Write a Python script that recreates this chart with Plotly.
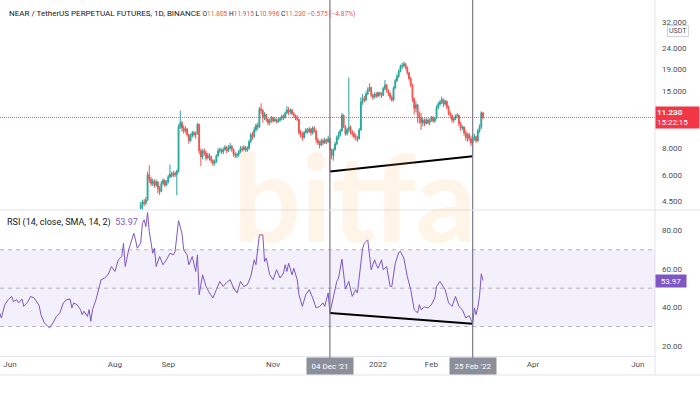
import math
import pandas as pd
import plotly.graph_objects as go

FONT = "Roboto"

# ---------------- price data (daily candles, NEAR/USDT perp) ----------------
start_date = "2021-08-16"
first_open = 4.15
close = [
    # Aug 16-31
    4.30, 4.45, 4.40, 4.55, 6.00, 5.70, 5.45, 5.60, 5.35, 5.55, 5.15, 5.00, 5.45, 5.65, 5.35, 5.55,
    # Sep
    5.85, 6.05, 5.95, 6.10, 6.00, 6.25, 10.10, 10.60, 10.00, 9.70, 9.90, 9.30, 8.70, 9.20, 9.50,
    9.30, 9.45, 10.40, 7.80, 7.30, 7.80, 7.60, 7.20, 7.40, 7.30, 7.00, 6.80, 6.90, 7.40, 7.80,
    # Oct
    7.90, 7.70, 7.90, 8.10, 7.80, 8.00, 8.20, 7.90, 7.50, 7.40, 7.50, 7.75, 8.00, 7.90, 8.10, 7.85,
    8.00, 8.60, 9.30, 9.10, 9.80, 10.30, 10.10, 12.30, 12.10, 11.20, 11.60, 11.00, 10.60, 10.90, 11.20,
    # Nov
    10.80, 11.00, 10.70, 10.90, 11.10, 11.40, 11.20, 11.80, 12.20, 11.90, 12.20, 11.70, 11.50, 11.20, 11.00,
    9.50, 9.30, 9.00, 9.50, 9.80, 9.60, 9.90, 9.50, 10.00, 9.70, 8.80, 8.50, 8.30, 8.70, 8.50,
    # Dec
    8.80, 8.60, 8.90, 7.80, 7.40, 7.90, 8.40, 9.00, 9.30, 9.70, 11.50, 10.20, 9.40, 9.80, 10.10, 9.60,
    9.40, 9.10, 9.00, 8.90, 9.80, 13.30, 13.80, 13.60, 14.50, 15.20, 15.60, 14.30, 14.00, 14.50, 14.20,
    # Jan
    14.70, 14.40, 14.30, 15.40, 16.00, 15.10, 14.60, 14.00, 13.60, 15.50, 16.80, 17.60, 18.60, 19.60, 19.80, 20.20,
    19.50, 18.30, 17.20, 16.00, 13.80, 12.40, 12.90, 11.60, 11.20, 10.60, 10.90, 10.50, 10.90, 10.60, 10.90,
    # Feb
    11.20, 10.80, 11.10, 12.50, 13.00, 13.30, 13.70, 13.00, 13.40, 12.60, 11.80, 11.50, 10.90, 11.10,
    11.40, 11.50, 10.50, 10.00, 10.10, 9.50, 9.00, 9.30, 8.90, 8.50, 8.90, 9.10, 8.70, 9.70,
    # Mar 1-3
    10.10, 11.805, 11.230,
]
high = [
    4.45, 4.55, 4.60, 4.70, 6.20, 6.65, 5.85, 5.75, 5.70, 5.70, 5.60, 5.30, 5.60, 5.75, 5.70, 5.65,
    6.00, 6.70, 6.20, 6.25, 6.20, 6.35, 10.40, 12.10, 10.80, 10.30, 10.20, 10.00, 9.40, 9.40, 9.70,
    9.70, 9.60, 10.60, 10.50, 8.00, 7.95, 8.00, 7.80, 7.60, 7.60, 7.40, 7.10, 7.10, 7.50, 8.00,
    8.10, 8.00, 8.10, 8.30, 8.20, 8.30, 8.50, 8.30, 8.00, 7.70, 7.60, 7.85, 8.20, 8.20, 8.30, 8.20,
    8.20, 8.80, 9.50, 9.60, 10.10, 10.50, 10.60, 12.60, 13.10, 12.30, 11.90, 11.70, 11.10, 11.10, 11.40,
    11.30, 11.30, 11.10, 11.20, 11.30, 11.60, 11.60, 12.00, 12.70, 12.60, 12.40, 12.30, 11.90, 11.60, 11.50,
    11.10, 9.80, 9.60, 9.70, 10.00, 10.00, 10.10, 10.00, 10.20, 10.20, 9.80, 9.00, 8.70, 8.90, 8.90,
    9.00, 8.90, 9.20, 9.00, 8.00, 8.00, 8.60, 9.20, 9.60, 9.90, 11.80, 11.60, 10.30, 10.00, 17.40, 10.30,
    9.80, 9.60, 9.40, 9.20, 10.00, 14.00, 14.50, 14.20, 14.90, 15.60, 16.30, 15.70, 14.60, 14.80, 14.80,
    14.90, 14.90, 14.80, 15.70, 16.90, 16.20, 15.30, 14.80, 14.30, 15.80, 17.10, 18.00, 19.00, 20.00, 20.40, 20.70,
    20.40, 19.60, 18.50, 17.50, 16.20, 14.00, 13.40, 13.00, 12.00, 11.80, 11.20, 11.10, 11.20, 11.10, 11.10,
    11.40, 11.40, 11.30, 12.80, 13.30, 13.60, 14.10, 13.80, 13.60, 13.50, 12.80, 12.00, 11.60, 11.30,
    11.60, 11.80, 11.60, 10.70, 10.30, 10.20, 9.80, 9.50, 9.50, 9.20, 9.30, 9.40, 9.20, 9.90,
    10.40, 12.00, 11.915,
]
low = [
    4.10, 4.05, 4.25, 4.30, 4.50, 5.50, 5.30, 5.30, 5.20, 5.25, 4.90, 4.80, 4.95, 5.35, 5.25, 5.30,
    5.45, 5.80, 5.80, 5.85, 5.85, 4.80, 6.15, 9.90, 9.60, 9.40, 9.50, 9.10, 8.40, 8.60, 9.00,
    9.10, 8.90, 9.30, 7.50, 6.60, 7.10, 7.40, 7.00, 7.10, 7.00, 6.80, 6.60, 6.65, 6.85, 7.30,
    7.60, 7.55, 7.50, 7.80, 7.60, 7.70, 7.90, 7.70, 7.30, 7.20, 7.20, 7.30, 7.60, 7.70, 7.80, 7.70,
    7.70, 7.90, 8.50, 8.80, 9.00, 9.60, 9.80, 10.00, 11.60, 10.60, 10.90, 10.70, 10.30, 10.30, 10.60,
    10.60, 10.70, 10.50, 10.60, 10.70, 10.90, 10.90, 11.10, 11.60, 11.50, 11.60, 11.50, 11.20, 10.90, 10.80,
    9.30, 9.00, 8.70, 8.90, 9.40, 9.40, 9.50, 9.20, 9.30, 9.50, 8.50, 8.30, 8.00, 8.20, 8.30,
    8.40, 8.40, 8.50, 6.22, 7.10, 7.00, 7.80, 8.30, 8.80, 9.10, 9.60, 10.00, 9.20, 9.20, 9.50, 9.30,
    9.10, 8.90, 8.70, 8.60, 8.80, 9.70, 12.90, 13.20, 13.40, 14.30, 14.90, 14.00, 13.60, 13.80, 13.90,
    14.00, 14.10, 13.90, 14.20, 15.10, 14.70, 14.20, 13.60, 13.30, 13.40, 15.30, 16.50, 17.30, 18.40, 19.10, 19.40,
    19.00, 17.90, 16.80, 15.60, 13.30, 11.60, 11.90, 10.60, 10.50, 9.80, 10.20, 10.20, 10.40, 10.40, 10.30,
    10.70, 10.60, 10.60, 11.00, 12.30, 12.70, 13.00, 12.60, 12.80, 12.30, 11.50, 11.10, 10.60, 10.60,
    10.90, 11.10, 10.20, 9.70, 9.80, 9.20, 8.70, 8.60, 8.70, 8.20, 7.35, 8.70, 8.50, 8.60,
    9.50, 9.90, 10.996,
]

# ---------------- RSI (14) ----------------
rsi_dates = [
    "2021-05-26", "2021-05-27", "2021-05-29", "2021-05-31", "2021-06-02", "2021-06-03", "2021-06-05",
    "2021-06-06", "2021-06-08", "2021-06-09", "2021-06-11", "2021-06-13", "2021-06-15", "2021-06-17",
    "2021-06-18", "2021-06-19", "2021-06-21", "2021-06-23", "2021-06-24", "2021-06-26", "2021-06-28",
    "2021-06-30",
    "2021-07-02", "2021-07-04", "2021-07-06", "2021-07-07", "2021-07-08", "2021-07-10", "2021-07-12",
    "2021-07-13", "2021-07-14", "2021-07-16", "2021-07-17", "2021-07-18", "2021-07-19", "2021-07-21",
    "2021-07-23", "2021-07-24", "2021-07-26", "2021-07-28", "2021-07-30",
    "2021-08-01", "2021-08-03", "2021-08-05", "2021-08-06", "2021-08-07", "2021-08-09", "2021-08-10",
    "2021-08-12", "2021-08-13", "2021-08-14", "2021-08-16", "2021-08-17", "2021-08-18", "2021-08-19",
    "2021-08-20", "2021-08-21", "2021-08-23", "2021-08-24", "2021-08-25", "2021-08-27", "2021-08-29",
    "2021-08-31",
    "2021-09-02", "2021-09-04", "2021-09-05", "2021-09-07", "2021-09-09", "2021-09-10", "2021-09-12",
    "2021-09-13", "2021-09-15", "2021-09-17", "2021-09-18", "2021-09-19", "2021-09-21", "2021-09-23",
    "2021-09-25", "2021-09-27", "2021-09-29",
    "2021-10-01", "2021-10-03", "2021-10-05", "2021-10-07", "2021-10-09", "2021-10-11", "2021-10-13",
    "2021-10-15", "2021-10-17", "2021-10-19", "2021-10-21", "2021-10-22", "2021-10-23", "2021-10-24",
    "2021-10-26", "2021-10-27", "2021-10-28", "2021-10-30",
    "2021-11-01", "2021-11-03", "2021-11-05", "2021-11-07", "2021-11-08", "2021-11-09", "2021-11-10",
    "2021-11-12", "2021-11-13", "2021-11-15", "2021-11-16", "2021-11-18", "2021-11-20", "2021-11-22",
    "2021-11-24", "2021-11-26", "2021-11-28", "2021-11-30",
    "2021-12-01", "2021-12-03", "2021-12-04", "2021-12-06", "2021-12-08", "2021-12-09", "2021-12-11",
    "2021-12-13", "2021-12-15", "2021-12-17", "2021-12-19", "2021-12-20", "2021-12-21", "2021-12-23",
    "2021-12-24", "2021-12-26", "2021-12-28", "2021-12-30", "2021-12-31",
    "2022-01-01", "2022-01-03", "2022-01-04", "2022-01-06", "2022-01-08", "2022-01-09", "2022-01-11",
    "2022-01-13", "2022-01-14", "2022-01-16", "2022-01-18", "2022-01-20", "2022-01-22", "2022-01-24",
    "2022-01-25", "2022-01-26", "2022-01-28", "2022-01-30",
    "2022-02-01", "2022-02-03", "2022-02-04", "2022-02-06", "2022-02-08", "2022-02-09", "2022-02-11",
    "2022-02-13", "2022-02-15", "2022-02-17", "2022-02-19", "2022-02-21", "2022-02-23", "2022-02-24",
    "2022-02-25", "2022-02-26", "2022-02-27", "2022-02-28",
    "2022-03-01", "2022-03-02", "2022-03-03",
]
rsi_values = [
    37.1, 34.5, 41.4, 44.0, 45.7, 43.1, 44.0, 42.3, 44.3, 40.5, 42.3, 45.7, 44.9, 42.3, 40.9, 36.2,
    31.9, 30.1, 29.3, 31.9, 35.3, 37.1,
    42.3, 44.0, 44.3, 39.7, 42.3, 41.4, 38.8, 36.2, 38.0, 35.3, 38.8, 32.7, 38.8, 44.0, 51.8, 54.4,
    55.3, 57.0, 61.3,
    58.7, 64.8, 66.5, 73.4, 61.3, 70.0, 72.6, 78.6, 75.2, 70.8, 73.4, 83.8, 85.6, 82.1, 89.4, 79.5,
    68.2, 70.8, 61.3, 66.5, 62.2, 64.8,
    68.2, 67.4, 69.1, 85.2, 78.6, 70.0, 67.4, 62.2, 66.5, 58.7, 67.4, 46.6, 57.0, 50.9, 47.5, 44.9, 49.2,
    53.5, 50.9, 53.0, 54.4, 50.1, 47.5, 53.5, 50.9, 51.8, 56.1, 64.8, 62.2, 70.0, 77.8, 77.8, 63.9,
    65.7, 57.0,
    54.4, 59.6, 55.3, 57.9, 62.2, 58.7, 63.0, 57.0, 60.4, 54.4, 46.6, 40.5, 46.6, 49.2, 44.9, 39.7,
    40.5, 42.3,
    40.5, 47.5, 37.1, 45.0, 53.5, 55.3, 65.1, 49.5, 53.5, 45.7, 49.2, 47.5, 56.1, 70.8, 73.4, 75.2,
    59.6, 64.8, 62.2,
    60.4, 64.8, 59.6, 61.3, 50.9, 50.9, 63.0, 68.6, 69.1, 65.7, 56.1, 49.2, 38.8, 37.1, 41.4, 38.8,
    40.2, 39.7,
    41.4, 44.9, 50.9, 53.5, 50.6, 49.2, 42.3, 40.5, 45.7, 40.5, 38.8, 34.5, 35.7, 34.0, 31.5, 39.7,
    36.2, 40.0,
    46.0, 57.5, 53.97,
]

# ---------------- annotations / axis text ----------------
pivot_dates = ["2021-12-04", "2022-02-25"]
pivot_labels = ["04 Dec '21", "25 Feb '22"]
price_ticks = [4.5, 6, 8, 15, 19, 24, 32]
rsi_ticks = [20, 40, 60, 80]
month_ticks = ["2021-06-01", "2021-08-01", "2021-09-01", "2021-11-01",
               "2022-01-01", "2022-02-01", "2022-04-01", "2022-06-01"]
month_labels = ["Jun", "Aug", "Sep", "Nov", "2022", "Feb", "Apr", "Jun"]
rsi_levels = [30, 50, 70]
countdown = "15:22:15"

UP, DOWN, PURPLE = "#26a69a", "#ef5350", "#7e57c2"
GRID = "#e0e3eb"
TXT = "#4a4e59"

dates = pd.date_range(start_date, periods=len(close), freq="D")
open_ = [first_open] + close[:-1]
last_close = close[-1]
rsi_map = dict(zip(rsi_dates, rsi_values))
pivot_lows = [low[dates.get_loc(pd.Timestamp(d))] for d in pivot_dates]
pivot_rsi = [rsi_map[d] for d in pivot_dates]

H_PLOT = 356.0
split = 146 / H_PLOT

fig = go.Figure()
fig.add_trace(go.Candlestick(
    x=dates, open=open_, high=high, low=low, close=close, yaxis="y", xaxis="x",
    increasing=dict(line=dict(color=UP, width=1), fillcolor=UP),
    decreasing=dict(line=dict(color=DOWN, width=1), fillcolor=DOWN),
    whiskerwidth=0, showlegend=False, hoverinfo="skip"))
fig.add_trace(go.Scatter(x=pivot_dates, y=pivot_lows, mode="lines", yaxis="y",
                         line=dict(color="#000000", width=2), showlegend=False, hoverinfo="skip"))
fig.add_trace(go.Scatter(x=rsi_dates, y=rsi_values, mode="lines", yaxis="y2",
                         line=dict(color=PURPLE, width=1), showlegend=False, hoverinfo="skip"))
fig.add_trace(go.Scatter(x=pivot_dates, y=pivot_rsi, mode="lines", yaxis="y2",
                         line=dict(color="#000000", width=2), showlegend=False, hoverinfo="skip"))

shapes = []
# RSI band and levels
shapes.append(dict(type="rect", xref="paper", yref="y2", x0=0, x1=1, y0=rsi_levels[0], y1=rsi_levels[2],
                   fillcolor="#f3effb", line=dict(width=0), layer="below"))
for lv in rsi_levels:
    shapes.append(dict(type="line", xref="paper", yref="y2", x0=0, x1=1, y0=lv, y1=lv,
                       line=dict(color="#b2b5be", width=1, dash="4px,4px"), layer="below"))
# last price dotted line
shapes.append(dict(type="line", xref="paper", yref="y", x0=0, x1=1, y0=last_close, y1=last_close,
                   line=dict(color="#f7525f", width=1, dash="1px,1px")))
# vertical pivot lines
for d in pivot_dates:
    shapes.append(dict(type="line", xref="x", yref="paper", x0=d, x1=d, y0=-2 / H_PLOT, y1=1,
                       line=dict(color="#787b86", width=1.2)))
# pane separator, axis row borders, right border
for ypx in (210, 375):
    yy = (H_PLOT - ypx) / H_PLOT
    shapes.append(dict(type="line", xref="paper", yref="paper", x0=0, x1=700 / 655, y0=yy, y1=yy,
                       line=dict(color=GRID, width=1)))
shapes.append(dict(type="line", xref="paper", yref="paper", x0=1, x1=1, y0=-19 / H_PLOT, y1=1,
                   line=dict(color=GRID, width=1)))

annotations = []
ohlc = (f"<span style='font-size:6.6px'>O<span style='color:{DOWN}'>11.805</span> "
        f"H<span style='color:{DOWN}'>11.915</span> "
        f"L<span style='color:{DOWN}'>10.996</span> "
        f"C<span style='color:{DOWN}'>{last_close:.3f}</span> "
        f"<span style='color:{DOWN}'>−0.575 (−4.87%)</span></span>")
title_txt = "NEAR / TetherUS PERPETUAL FUTURES, 1D, BINANCE&nbsp;" + ohlc
annotations.append(dict(xref="paper", yref="paper", x=7 / 655, y=(H_PLOT - 14) / H_PLOT,
                        xanchor="left", yanchor="middle", text=title_txt, showarrow=False,
                        font=dict(family=FONT, size=8, color="#131722")))
annotations.append(dict(xref="paper", yref="paper", x=5 / 655, y=(H_PLOT - 222) / H_PLOT,
                        xanchor="left", yanchor="middle",
                        text=f"RSI (14, close, SMA, 14, 2)&nbsp;&nbsp;<span style='color:{PURPLE}'>{rsi_values[-1]:.2f}</span>",
                        showarrow=False, font=dict(family=FONT, size=9, color="#131722")))
annotations.append(dict(xref="paper", yref="y", x=1, y=math.log10(last_close), xanchor="left",
                        yanchor="middle", text=f"<b>{last_close:.3f}</b><br>{countdown}",
                        showarrow=False, bgcolor="#f23645", align="left", width=41, height=19,
                        borderpad=1, font=dict(family=FONT, size=8, color="white")))
annotations.append(dict(xref="paper", yref="paper", x=677.5 / 655, y=(H_PLOT - 31) / H_PLOT,
                        xanchor="center", yanchor="middle", text="USDT", showarrow=False,
                        bgcolor="white", bordercolor="#d1d4dc", borderwidth=1, borderpad=1,
                        font=dict(family=FONT, size=7, color=TXT)))
annotations.append(dict(xref="paper", yref="y2", x=1, y=rsi_values[-1], xanchor="left",
                        yanchor="middle", text=f"{rsi_values[-1]:.2f}", showarrow=False,
                        bgcolor=PURPLE, width=28, height=10, borderpad=1,
                        font=dict(family=FONT, size=8, color="white")))
for d, lab in zip(pivot_dates, pivot_labels):
    annotations.append(dict(xref="x", yref="paper", x=d, y=-10 / H_PLOT, xanchor="center",
                            yanchor="middle", text=lab, showarrow=False, bgcolor="#8c8f99",
                            width=44, height=14, borderpad=1,
                            font=dict(family=FONT, size=8, color="white")))
annotations.append(dict(xref="paper", yref="paper", x=355 / 655, y=(H_PLOT - 196) / H_PLOT,
                        xanchor="center", yanchor="middle", text="bitfa", showarrow=False,
                        font=dict(family="Lato", size=120, color="rgba(247,170,70,0.13)", weight="bold")))

fig.update_layout(
    width=700, height=400, margin=dict(l=0, r=45, t=0, b=44),
    paper_bgcolor="white", plot_bgcolor="white", showlegend=False,
    xaxis=dict(type="date", range=["2021-05-26 05:00", "2022-06-11"], anchor="y2",
               rangeslider=dict(visible=False), showgrid=False, zeroline=False,
               showline=True, linecolor=GRID, linewidth=1,
               tickmode="array", tickvals=month_ticks, ticktext=month_labels, ticks="",
               tickfont=dict(family=FONT, size=8, color=TXT)),
    yaxis=dict(type="log", domain=[split, 1], range=[math.log10(4.079), math.log10(40.58)],
               side="right", showgrid=False, zeroline=False, showline=False,
               tickmode="array", tickvals=price_ticks, ticktext=[f"{v:.3f}" for v in price_ticks],
               ticks="", ticklabelstandoff=6, tickfont=dict(family=FONT, size=8, color=TXT)),
    yaxis2=dict(domain=[0, split], range=[14.65, 90.75], side="right", showgrid=False,
                zeroline=False, showline=False, anchor="x",
                tickmode="array", tickvals=rsi_ticks, ticktext=[f"{v:.2f}" for v in rsi_ticks],
                ticks="", ticklabelstandoff=6, tickfont=dict(family=FONT, size=8, color=TXT)),
    shapes=shapes, annotations=annotations,
)

fig.write_html("out.html")
